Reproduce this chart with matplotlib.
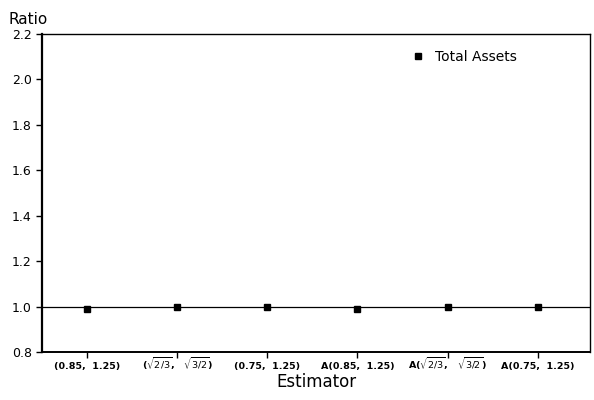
import numpy as np
import matplotlib
matplotlib.use("Agg")
import matplotlib.pyplot as plt

# estimator labels and ratio values
estimators = [r"(0.85,  1.25)",
              r"($\sqrt{2/3}$,   $\sqrt{3/2}$)",
              r"(0.75,  1.25)",
              r"A(0.85,  1.25)",
              r"A($\sqrt{2/3}$,   $\sqrt{3/2}$)",
              r"A(0.75,  1.25)"]
total_assets = [0.99, 1.0, 1.0, 0.99, 1.0, 1.0]

plt.rcParams['mathtext.fontset'] = 'dejavusans'

fig = plt.figure(figsize=(5.94, 4.0), dpi=100)
ax = fig.add_axes([0.071, 0.12, 0.922, 0.795])

ind = np.arange(1, len(estimators) + 1)
ax.plot(ind, total_assets, 's', color='black', markersize=4, label='Total Assets')
ax.axhline(1.0, color='black', linewidth=0.9)

ax.set_xlim(0.5, 6.58)
ax.set_ylim(0.8, 2.2)
ax.set_yticks(np.arange(0.8, 2.21, 0.2))
ax.set_yticklabels(["%.1f" % v for v in np.arange(0.8, 2.21, 0.2)], fontsize=9)
ax.set_xticks(ind)
ax.set_xticklabels(estimators, fontsize=6.8, fontweight='bold', va='baseline')
ax.tick_params(axis='both', direction='out', length=4, width=1, color='black')
ax.tick_params(axis='x', pad=8)

for s in ax.spines.values():
    s.set_linewidth(1.0)
ax.spines['left'].set_linewidth(1.6)
ax.spines['bottom'].set_linewidth(1.4)

ax.set_xlabel("Estimator", fontsize=12, labelpad=1)
fig.text(0.015, 0.94, "Ratio", fontsize=11)

ax.legend(loc='center left', bbox_to_anchor=(0.671, 0.928), frameon=False,
          fontsize=10, handletextpad=0.6, handlelength=1.2,
          borderpad=0, borderaxespad=0)

plt.savefig("out.png")
plt.close()
